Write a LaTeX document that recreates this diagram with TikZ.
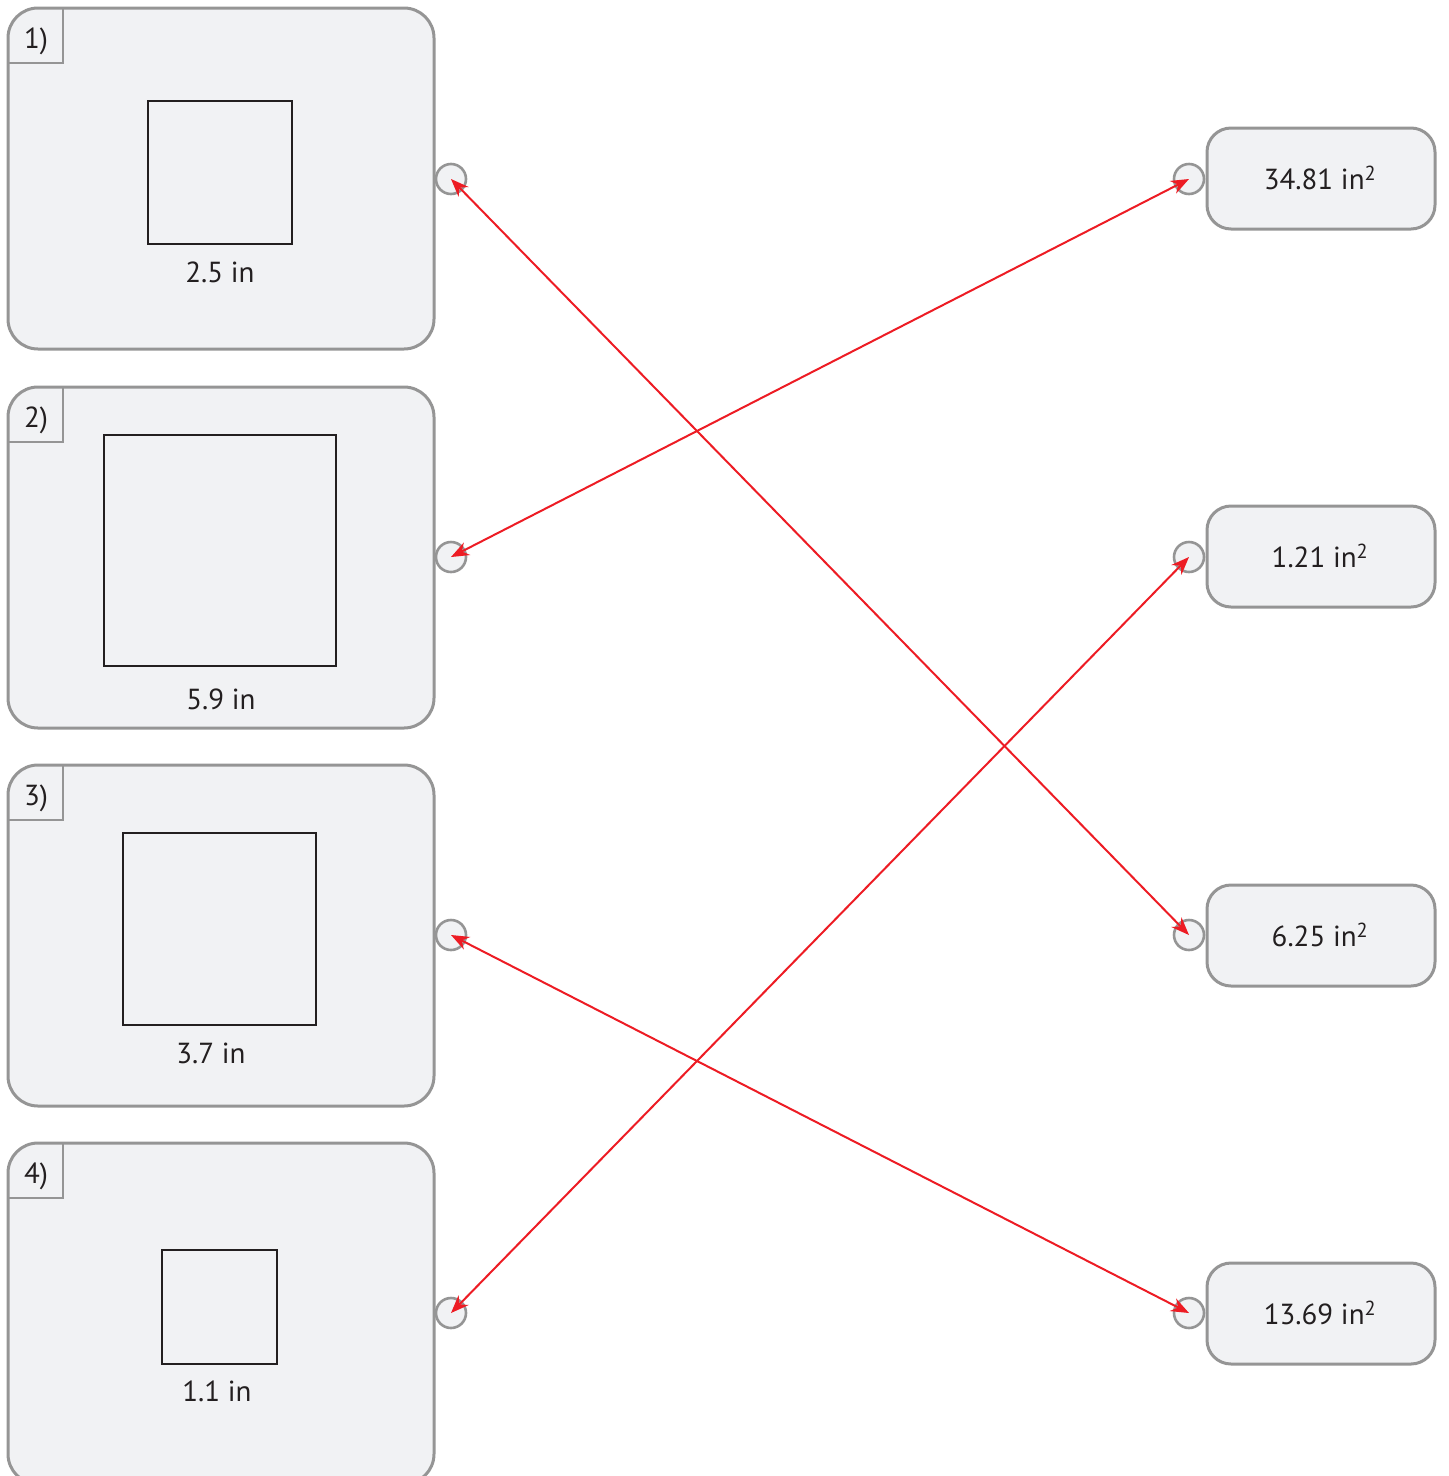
\documentclass[tikz,border=0pt]{standalone}
\usepackage{fontspec}
\setmainfont{PT Sans}
\usetikzlibrary{arrows.meta}
\definecolor{boxfill}{HTML}{F1F2F4}
\definecolor{boxline}{HTML}{959595}
\definecolor{ink}{HTML}{231F20}
\definecolor{arrred}{HTML}{ED1C24}
\tikzset{
  qbox/.style={draw=boxline, line width=3pt, fill=boxfill, rounded corners=30pt},
  abox/.style={draw=boxline, line width=3pt, fill=boxfill, rounded corners=24pt},
  tabline/.style={draw=boxline, line width=2.5pt},
  dot/.style={circle, draw=boxline, line width=2.6pt, fill=boxfill, minimum size=30pt, inner sep=0pt},
  sq/.style={draw=ink, line width=2.8pt},
  lbl/.style={font=\fontsize{29pt}{31pt}\selectfont, text=ink, inner sep=0pt},
  tablbl/.style={font=\fontsize{29pt}{31pt}\selectfont, text=ink, inner sep=0pt},
  arr/.style={draw=arrred, line width=2pt, {Stealth[length=18pt,width=14pt]}-{Stealth[length=18pt,width=14pt]}}
}
\begin{document}
\begin{tikzpicture}[x=1pt,y=-1pt]
\useasboundingbox (0,0) rectangle (1449,1476);
% question boxes
\foreach \i/\t in {1/8,2/387,3/765,4/1143}{
  \path[qbox] (8,\t) rectangle (434,\t+341);
  \draw[tabline] (8,\t+55) -- (63,\t+55) -- (63,\t);
  \node[tablbl] (tab\i) at (36,\t+33) {\i)};
}
% squares
\draw[sq] (148,101) rectangle (292,244);
\node[lbl] (l1) at (220,272) {2.5 in};
\draw[sq] (104,435) rectangle (336,666);
\node[lbl] (l2) at (221,699) {5.9 in};
\draw[sq] (123,833) rectangle (316,1025);
\node[lbl] (l3) at (211,1053) {3.7 in};
\draw[sq] (162,1250) rectangle (277,1364);
\node[lbl] (l4) at (217,1391) {1.1 in};
% answer boxes
\foreach \i/\t/\v in {1/128/34.81,2/506/1.21,3/885/6.25,4/1263/13.69}{
  \path[abox] (1207,\t) rectangle (1435,\t+101);
  \node[lbl] (a\i) at (1320,\t+50) {\v{} in\textsuperscript{2}};
}
% connector dots
\node[dot] (c1) at (451,179) {};
\node[dot] (c2) at (451,557) {};
\node[dot] (c3) at (451,935) {};
\node[dot] (c4) at (451,1313) {};
\node[dot] (r1) at (1189,179) {};
\node[dot] (r2) at (1189,557) {};
\node[dot] (r3) at (1189,935) {};
\node[dot] (r4) at (1189,1313) {};
% connectors
\draw[arr] (c1.center) -- (r3.center);
\draw[arr] (c2.center) -- (r1.center);
\draw[arr] (c3.center) -- (r4.center);
\draw[arr] (c4.center) -- (r2.center);
\end{tikzpicture}
\end{document}
